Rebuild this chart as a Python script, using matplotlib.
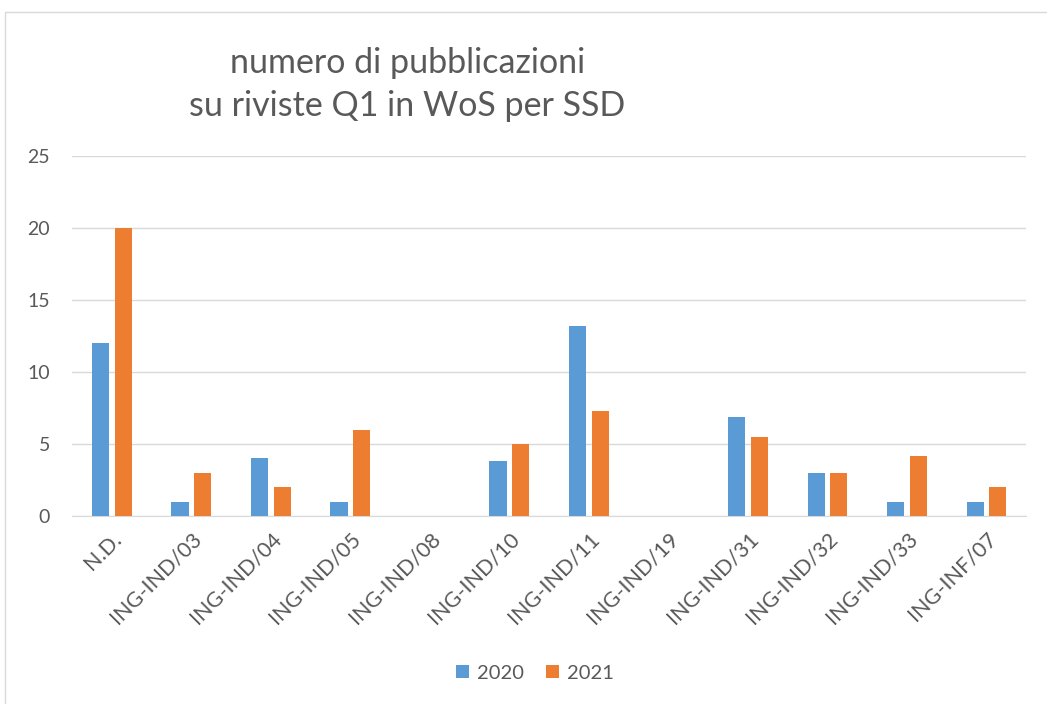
import matplotlib
matplotlib.use("Agg")
import matplotlib.pyplot as plt
from matplotlib.patches import Rectangle
import numpy as np

plt.rcParams['font.family'] = ['Lato', 'DejaVu Sans']

categories = ['N.D.', 'ING-IND/03', 'ING-IND/04', 'ING-IND/05', 'ING-IND/08',
              'ING-IND/10', 'ING-IND/11', 'ING-IND/19', 'ING-IND/31',
              'ING-IND/32', 'ING-IND/33', 'ING-INF/07']
values_2020 = [12, 1, 4, 1, 0, 3.8, 13.2, 0, 6.9, 3, 1, 1]
values_2021 = [20, 3, 2, 6, 0, 5, 7.3, 0, 5.5, 3, 4.2, 2]
series_names = ['2020', '2021']

blue = '#5B9BD5'
orange = '#ED7D31'
grey_text = '#595959'

fig = plt.figure(figsize=(10.47, 7.04), dpi=100)
ax = fig.add_axes([0.0688, 0.267, 0.9112, 0.511])

x = np.arange(len(categories))
w = 0.214
off = 0.142
ax.bar(x - off, values_2020, w, color=blue, label=series_names[0], zorder=3)
ax.bar(x + off, values_2021, w, color=orange, label=series_names[1], zorder=3)

ax.set_xlim(-0.5, len(categories) - 0.5)
ax.set_ylim(0, 25)
ax.set_yticks([0, 5, 10, 15, 20, 25])
ax.yaxis.grid(True, color='#D9D9D9', linewidth=1, zorder=0)
for s in ['top', 'right', 'left']:
    ax.spines[s].set_visible(False)
ax.spines['bottom'].set_color('#D9D9D9')
ax.tick_params(axis='both', length=0, colors=grey_text)
ax.tick_params(axis='y', pad=16, labelsize=14)
ax.tick_params(axis='x', pad=9, labelsize=15.5)
ax.set_xticks(x)
ax.set_xticklabels(categories, rotation=45, ha='right', rotation_mode='anchor')

fig.text(0.389, 0.910, 'numero di pubblicazioni', ha='center', va='center',
         fontsize=24.5, color=grey_text)
fig.text(0.389, 0.849, 'su riviste Q1 in WoS per SSD', ha='center', va='center',
         fontsize=24.5, color=grey_text)

fig.legend(loc='center', bbox_to_anchor=(0.511, 0.044), ncol=2, frameon=False,
           fontsize=14.5, handlelength=0.65, handleheight=0.65, handletextpad=0.4,
           columnspacing=1.1, labelcolor=grey_text)

# chart frame
fig.patches.append(Rectangle((5 / 1047, -0.1), 1.2, 1.1 - 12 / 704,
                             transform=fig.transFigure, fill=False,
                             edgecolor='#D9D9D9', linewidth=1))

fig.savefig('out.png', dpi=100)
